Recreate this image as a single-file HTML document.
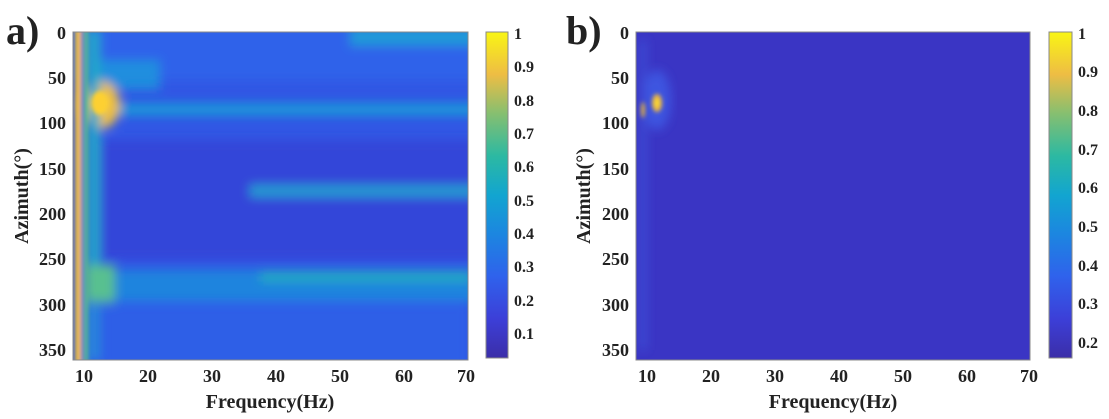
<!DOCTYPE html>
<html><head><style>
body{margin:0;background:#fff;width:1109px;height:414px;overflow:hidden}
text{font-family:"Liberation Serif",serif;font-weight:bold;fill:#222}
</style></head><body>
<svg width="1109" height="414" viewBox="0 0 1109 414">
<defs>
<linearGradient id="parula" x1="0" y1="1" x2="0" y2="0">
<stop offset="0" stop-color="#3b2ea8"/>
<stop offset="0.12" stop-color="#3c3fd8"/>
<stop offset="0.25" stop-color="#2f62ec"/>
<stop offset="0.38" stop-color="#1c86e0"/>
<stop offset="0.5" stop-color="#12a5d0"/>
<stop offset="0.62" stop-color="#2cb9a2"/>
<stop offset="0.75" stop-color="#86bf70"/>
<stop offset="0.87" stop-color="#eebd44"/>
<stop offset="1" stop-color="#f9f514"/>
</linearGradient>
<filter id="b1" x="-20%" y="-20%" width="140%" height="140%"><feGaussianBlur stdDeviation="5"/></filter>
<filter id="b2" x="-20%" y="-20%" width="140%" height="140%"><feGaussianBlur stdDeviation="2"/></filter>
<clipPath id="ca"><rect x="73" y="32" width="395" height="328"/></clipPath>
<clipPath id="cb"><rect x="636" y="32" width="394" height="328"/></clipPath>
</defs>
<text x="6" y="44" font-size="40">a)</text>
<text x="566" y="44" font-size="40">b)</text>
<!-- plot a -->
<g clip-path="url(#ca)">
<rect x="73" y="32" width="395" height="328" fill="#3157e4"/>
<g filter="url(#b1)">
<rect x="60" y="20" width="420" height="60" fill="#2d6aee" opacity="0.6"/>
<rect x="100" y="140" width="380" height="120" fill="#3542d6" opacity="0.8"/>
<rect x="85" y="103" width="395" height="13" fill="#1a9ed8" opacity="0.85"/>
<rect x="90" y="270" width="390" height="32" fill="#1c8fdc" opacity="0.8"/>
<rect x="250" y="185" width="230" height="12" fill="#1ea8cf" opacity="0.85"/>
<rect x="260" y="272" width="210" height="10" fill="#22b4bc" opacity="0.8"/>
<rect x="100" y="60" width="60" height="30" fill="#1c98dc" opacity="0.8"/>
<ellipse cx="100" cy="105" rx="20" ry="24" fill="#eec040"/>
<rect x="88" y="30" width="12" height="330" fill="#22a8c8"/>
<rect x="85" y="265" width="30" height="40" fill="#58c090"/>
<rect x="350" y="28" width="130" height="18" fill="#1ab0d0" opacity="0.7"/>
<rect x="73" y="300" width="395" height="70" fill="#2e66ec" opacity="0.5"/>
</g>
<g filter="url(#b2)">
<ellipse cx="100" cy="103" rx="9" ry="12" fill="#fdd030"/>
<rect x="75" y="28" width="6" height="340" fill="#f4c030"/>
<rect x="81" y="28" width="3" height="340" fill="#3050e0"/>
<rect x="84" y="28" width="4" height="340" fill="#60c080"/>
</g>
</g>
<rect x="73" y="32" width="395" height="328" fill="none" stroke="#888" stroke-width="1"/>
<rect x="486" y="32" width="22" height="326" fill="url(#parula)" stroke="#888"/>
<g font-size="16">
<text x="514" y="39">1</text><text x="514" y="72">0.9</text><text x="514" y="106">0.8</text>
<text x="514" y="139">0.7</text><text x="514" y="172">0.6</text><text x="514" y="206">0.5</text>
<text x="514" y="239">0.4</text><text x="514" y="272">0.3</text><text x="514" y="306">0.2</text>
<text x="514" y="339">0.1</text>
</g>
<!-- plot b -->
<g clip-path="url(#cb)">
<rect x="636" y="32" width="394" height="328" fill="#3a35c4"/>
<g filter="url(#b1)">
<ellipse cx="657" cy="100" rx="14" ry="30" fill="#3d55e0"/>
<rect x="640" y="40" width="6" height="310" fill="#3e4fd8"/>
</g>
<g filter="url(#b2)">
<ellipse cx="657" cy="103" rx="5" ry="9" fill="#f0b840"/>
<ellipse cx="657" cy="103" rx="2" ry="4" fill="#f9e030"/>
<ellipse cx="643" cy="110" rx="2" ry="8" fill="#e0b040"/>
</g>
</g>
<rect x="636" y="32" width="394" height="328" fill="none" stroke="#888"/>
<rect x="1049" y="32" width="23" height="326" fill="url(#parula)" stroke="#888"/>
<g font-size="16">
<text x="1078" y="39">1</text><text x="1078" y="77">0.9</text><text x="1078" y="116">0.8</text>
<text x="1078" y="155">0.7</text><text x="1078" y="193">0.6</text><text x="1078" y="232">0.5</text>
<text x="1078" y="271">0.4</text><text x="1078" y="309">0.3</text><text x="1078" y="348">0.2</text>
</g>
<g font-size="18" text-anchor="end">
<text x="66" y="39">0</text><text x="66" y="84">50</text><text x="66" y="129">100</text>
<text x="66" y="175">150</text><text x="66" y="220">200</text><text x="66" y="265">250</text>
<text x="66" y="311">300</text><text x="66" y="356">350</text>
<text x="629" y="39">0</text><text x="629" y="84">50</text><text x="629" y="129">100</text>
<text x="629" y="175">150</text><text x="629" y="220">200</text><text x="629" y="265">250</text>
<text x="629" y="311">300</text><text x="629" y="356">350</text>
</g>
<g font-size="18" text-anchor="middle">
<text x="84" y="382">10</text><text x="148" y="382">20</text><text x="212" y="382">30</text>
<text x="276" y="382">40</text><text x="340" y="382">50</text><text x="404" y="382">60</text><text x="466" y="382">70</text>
<text x="647" y="382">10</text><text x="711" y="382">20</text><text x="775" y="382">30</text>
<text x="839" y="382">40</text><text x="903" y="382">50</text><text x="967" y="382">60</text><text x="1029" y="382">70</text>
<text x="270" y="408" font-size="20">Frequency(Hz)</text>
<text x="833" y="408" font-size="20">Frequency(Hz)</text>
</g>
<text transform="translate(28,196) rotate(-90)" font-size="20" text-anchor="middle">Azimuth(°)</text>
<text transform="translate(590,196) rotate(-90)" font-size="20" text-anchor="middle">Azimuth(°)</text>
</svg>
</body></html>
